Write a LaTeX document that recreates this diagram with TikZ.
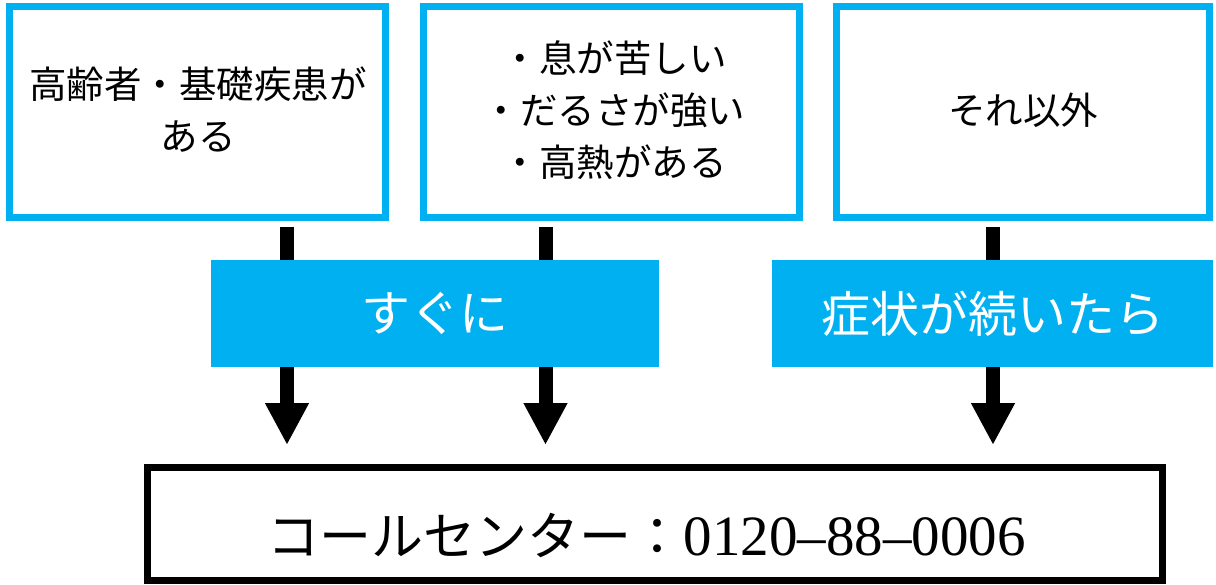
\documentclass[tikz,border=0pt]{standalone}
\usepackage{fontspec}
\setmainfont{Noto Sans CJK JP}
\newfontfamily\digitfont{Liberation Serif}
\usetikzlibrary{arrows.meta}
\definecolor{obl}{HTML}{00B0F0}
\tikzset{
  topbox/.style={draw=obl, line width=7pt, fill=white, inner sep=0pt, align=center, minimum height=211pt},
  banner/.style={fill=obl, inner sep=0pt, minimum height=107pt, text=white, font=\fontsize{49}{52}\selectfont},
  bigarrow/.style={line width=14pt, -{Triangle[width=41pt,length=42pt]}},
  txt/.style={font=\fontsize{37.5}{52}\selectfont, align=center, inner sep=0pt}
}
\begin{document}
\begin{tikzpicture}[x=1pt,y=-1pt]
\useasboundingbox (0,0) rectangle (1216,585);
% top boxes
\node[topbox, minimum width=376pt] (b1) at (197.5,112) {};
\node[topbox, minimum width=376pt] (b2) at (611.5,112) {};
\node[topbox, minimum width=373pt] (b3) at (1023,112) {};
\node[txt] (t1) at (198,110) {高齢者・基礎疾患が\\ある};
\node[txt] (t2) at (614,110) {・息が苦しい\\・だるさが強い\\・高熱がある};
\node[txt] (t3) at (1023,110) {それ以外};
% arrow coordinates
\coordinate (a1s) at (287,227); \coordinate (a1e) at (287,445);
\coordinate (a2s) at (545.5,227); \coordinate (a2e) at (545.5,445);
\coordinate (a3s) at (993,227); \coordinate (a3e) at (993,445);
\draw[bigarrow] (a1s) -- (a1e);
\draw[bigarrow] (a2s) -- (a2e);
\draw[bigarrow] (a3s) -- (a3e);
% banners
\node[banner, minimum width=448pt] (n1) at (435,313.5) {すぐに};
\node[banner, minimum width=441pt] (n2) at (992.5,313.5) {症状が続いたら};
% bottom box
\node[draw=black, line width=7pt, inner sep=0pt, minimum width=1015pt, minimum height=113pt] (cc) at (655,524) {};
\node[inner sep=0pt, anchor=base, font=\fontsize{52}{56}\selectfont] (cct) at (646.5,555) {コールセンター：{\digitfont\fontsize{57}{57}\selectfont 0120–88–0006}};
\end{tikzpicture}
\end{document}
